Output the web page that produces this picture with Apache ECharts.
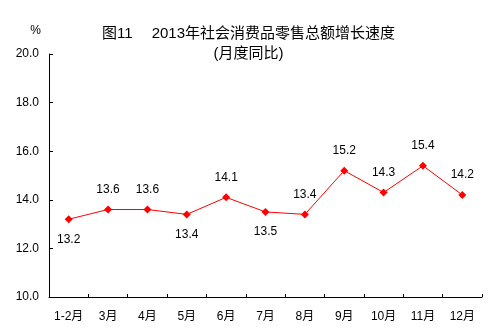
<!DOCTYPE html>
<html><head><meta charset="utf-8">
<script src="https://cdn.jsdelivr.net/npm/echarts@6/dist/echarts.min.js"></script>
<style>html,body{margin:0;padding:0;background:#fff}#c{width:497px;height:334px}</style>
</head><body><div id="c"></div>
<script>
const categories = ['1-2月','3月','4月','5月','6月','7月','8月','9月','10月','11月','12月'];
const values = [13.2,13.6,13.6,13.4,14.1,13.5,13.4,15.2,14.3,15.4,14.2];
const labelPos = ['bottom','top','top','bottom','top','bottom','top','top','top','top','top'];
const yTicks = [10,12,14,16,18,20];

const chart = echarts.init(document.getElementById('c'));
const font = '"Liberation Sans", Arial, "Noto Sans CJK SC", sans-serif';
chart.setOption({
  animation: false,
  backgroundColor: '#fff',
  title: {
    text: '图11　 2013年社会消费品零售总额增长速度',
    subtext: '(月度同比)',
    left: 'center', top: 21, itemGap: 5,
    textStyle: {fontSize: 15, fontWeight: 'normal', color: '#000', fontFamily: font},
    subtextStyle: {fontSize: 15, color: '#000', fontFamily: font}
  },
  grid: {left: 49, right: 15, top: 54, bottom: 37},
  xAxis: {
    type: 'category', data: categories, boundaryGap: true,
    axisLine: {lineStyle: {color: '#000', width: 1}},
    axisTick: {show: true, inside: true, length: 3, lineStyle: {color: '#000'}, alignWithLabel: false},
    axisLabel: {color: '#000', fontSize: 12, fontFamily: font, margin: 14, interval: 0}
  },
  yAxis: {
    type: 'value', min: yTicks[0], max: yTicks[yTicks.length-1], interval: 2,
    name: '%', nameLocation: 'end', nameGap: 17,
    nameTextStyle: {color: '#000', fontSize: 12, fontFamily: font, align: 'right', padding: [0, 8, 0, 0]},
    splitLine: {show: false},
    axisLine: {show: true, lineStyle: {color: '#000', width: 1}},
    axisTick: {show: true, inside: true, length: 4, lineStyle: {color: '#000'}},
    axisLabel: {color: '#000', fontSize: 12, fontFamily: font, margin: 10, formatter: v => v.toFixed(1)}
  },
  series: [{
    type: 'line',
    data: values.map((v, i) => ({value: v, label: {position: labelPos[i]}})),
    symbol: 'diamond', symbolSize: 8,
    lineStyle: {color: '#ff0000', width: 1},
    itemStyle: {color: '#ff0000'},
    label: {show: true, color: '#000', fontSize: 12, fontFamily: font, distance: 10, formatter: p => p.value.toFixed(1)}
  }]
});
</script></body></html>
